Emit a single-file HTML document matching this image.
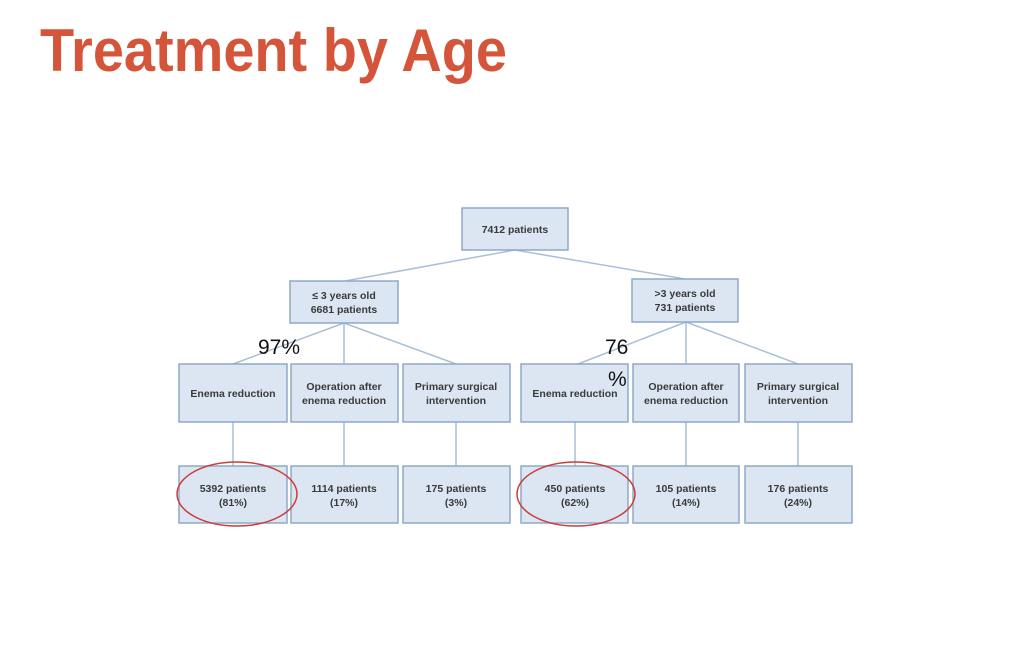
<!DOCTYPE html>
<html><head><meta charset="utf-8"><style>
html,body{margin:0;padding:0;background:#fff;}
svg{display:block;}
</style></head><body>
<svg width="1024" height="667" viewBox="0 0 1024 667" xmlns="http://www.w3.org/2000/svg">
<rect width="1024" height="667" fill="#fff"/>
<text x="40" y="71" font-family="Liberation Sans, sans-serif" font-weight="bold" font-size="60" fill="#d4553a" textLength="467" lengthAdjust="spacingAndGlyphs">Treatment by Age</text>
<g stroke="#a9bfd6" stroke-width="1.5" fill="none">
<line x1="515" y1="250" x2="345" y2="281"/>
<line x1="515" y1="250" x2="685" y2="279"/>
<line x1="344" y1="323" x2="233" y2="364"/>
<line x1="344" y1="323" x2="344" y2="364"/>
<line x1="344" y1="323" x2="456" y2="364"/>
<line x1="686" y1="322" x2="578" y2="364"/>
<line x1="686" y1="322" x2="686" y2="364"/>
<line x1="686" y1="322" x2="798" y2="364"/>
<line x1="233" y1="422" x2="233" y2="466"/>
<line x1="344" y1="422" x2="344" y2="466"/>
<line x1="456" y1="422" x2="456" y2="466"/>
<line x1="575" y1="422" x2="575" y2="466"/>
<line x1="686" y1="422" x2="686" y2="466"/>
<line x1="798" y1="422" x2="798" y2="466"/>
</g>
<g fill="#dce6f2" stroke="#8ea9c8" stroke-width="1.5">
<rect x="462" y="208" width="106" height="42"/>
<rect x="290" y="281" width="108" height="42"/>
<rect x="632" y="279" width="106" height="43"/>
<rect x="179" y="364" width="108" height="58"/>
<rect x="291" y="364" width="107" height="58"/>
<rect x="403" y="364" width="107" height="58"/>
<rect x="521" y="364" width="107" height="58"/>
<rect x="633" y="364" width="106" height="58"/>
<rect x="745" y="364" width="107" height="58"/>
<rect x="179" y="466" width="108" height="57"/>
<rect x="291" y="466" width="107" height="57"/>
<rect x="403" y="466" width="107" height="57"/>
<rect x="521" y="466" width="107" height="57"/>
<rect x="633" y="466" width="106" height="57"/>
<rect x="745" y="466" width="107" height="57"/>
</g>
<g font-family="Liberation Sans, sans-serif" font-size="10.5" font-weight="bold" fill="#3a3a3a" text-anchor="middle">
<text x="515" y="233">7412 patients</text>
<text x="344" y="299">≤ 3 years old</text>
<text x="344" y="313">6681 patients</text>
<text x="685" y="297">&gt;3 years old</text>
<text x="685" y="311">731 patients</text>
<text x="233" y="397">Enema reduction</text>
<text x="344" y="390">Operation after</text>
<text x="344" y="404">enema reduction</text>
<text x="456" y="390">Primary surgical</text>
<text x="456" y="404">intervention</text>
<text x="575" y="397">Enema reduction</text>
<text x="686" y="390">Operation after</text>
<text x="686" y="404">enema reduction</text>
<text x="798" y="390">Primary surgical</text>
<text x="798" y="404">intervention</text>
<text x="233" y="492">5392 patients</text>
<text x="233" y="506">(81%)</text>
<text x="344" y="492">1114 patients</text>
<text x="344" y="506">(17%)</text>
<text x="456" y="492">175 patients</text>
<text x="456" y="506">(3%)</text>
<text x="575" y="492">450 patients</text>
<text x="575" y="506">(62%)</text>
<text x="686" y="492">105 patients</text>
<text x="686" y="506">(14%)</text>
<text x="798" y="492">176 patients</text>
<text x="798" y="506">(24%)</text>
</g>
<g font-family="Liberation Sans, sans-serif" font-size="21" fill="#111">
<text x="258" y="354">97%</text>
<text x="605" y="354">76</text>
<text x="608" y="386">%</text>
</g>
<g fill="none" stroke="#cc3b3b" stroke-width="1.5">
<ellipse cx="237" cy="494" rx="60" ry="32"/>
<ellipse cx="576" cy="494" rx="59" ry="32"/>
</g>
</svg>
</body></html>
